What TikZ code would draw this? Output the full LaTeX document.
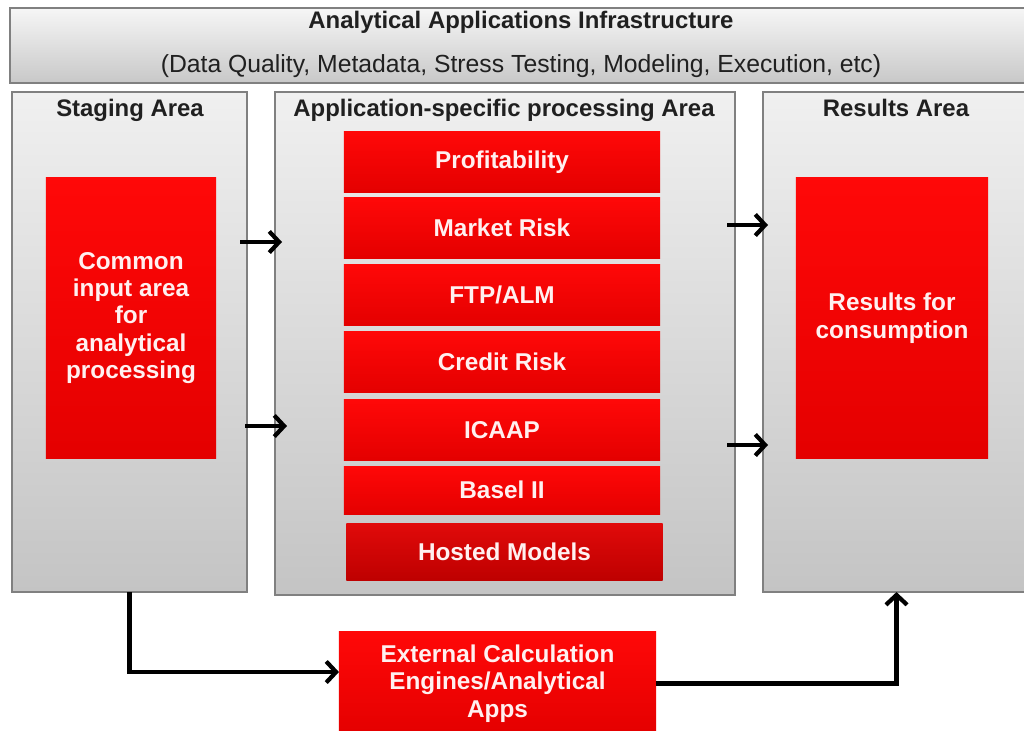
\documentclass[tikz,border=0pt]{standalone}
\usepackage{fontspec}
\setmainfont{Liberation Sans}
\usetikzlibrary{positioning,arrows.meta}
\definecolor{panelline}{RGB}{128,128,128}
\definecolor{panelhi}{RGB}{240,240,240}
\definecolor{panello}{RGB}{196,196,196}
\definecolor{barhi}{RGB}{246,246,246}
\definecolor{barlo}{RGB}{200,200,200}
\definecolor{redhi}{RGB}{255,8,8}
\definecolor{redlo}{RGB}{228,0,0}
\definecolor{darkhi}{RGB}{225,10,10}
\definecolor{darklo}{RGB}{190,0,0}
\definecolor{headtext}{RGB}{32,32,32}
\definecolor{celltext}{RGB}{255,240,240}
\newcommand{\areafont}{\bfseries\fontsize{17}{19}\selectfont}
\newcommand{\cellfont}{\bfseries\fontsize{17.3}{19.5}\selectfont}
\newcommand{\notefont}{\fontsize{17.6}{19}\selectfont}
\tikzstyle{panel} = [draw=panelline, line width=1pt, top color=panelhi, bottom color=panello, inner sep=0pt, outer sep=0pt]
\tikzstyle{redbox} = [top color=redhi, bottom color=redlo, text=celltext, font=\cellfont, align=center, inner sep=0pt, outer sep=0pt]
\tikzstyle{head} = [font=\areafont, text=headtext]
\tikzstyle{arr} = [-{Straight Barb[length=7pt,width=15pt]}, line width=3pt, black]

\begin{document}
\begin{tikzpicture}[x=0.025cm, y=-0.025cm]
\useasboundingbox (0,0) rectangle (1024,730);

\node[panel, top color=barhi, bottom color=barlo, minimum width=25.5cm, minimum height=1.875cm] (infra) at (520,45.5) {};
\node[head] (infra_t) at (521,22) {Analytical Applications Infrastructure};
\node[font=\notefont, text=headtext] (infra_s) at (521,66) {(Data Quality, Metadata, Stress Testing, Modeling, Execution, etc)};

\node[panel, minimum width=5.875cm, minimum height=12.5cm] (stage) at (129.5,342) {};
\node[panel, minimum width=11.5cm, minimum height=12.575cm] (app) at (505,343.5) {};
\node[panel, minimum width=6.675cm, minimum height=12.5cm] (res) at (896.5,342) {};

\node[head] (stage_t) at (130,110) {Staging Area};
\node[head] (app_t) at (504,110) {Application-specific processing Area};
\node[head] (res_t) at (896,108) {Results Area};

\node[redbox, minimum width=4.25cm, minimum height=7cm] (input) at (131,318) {Common\\input area\\for\\analytical\\processing};
\node[redbox, minimum width=4.8cm, minimum height=7cm] (output) at (892,318) {Results for\\consumption};

\node[redbox, minimum width=7.9cm, minimum height=1.5cm] (m_1) at (502,162) {Profitability};
\node[redbox, minimum width=7.9cm, minimum height=1.5cm] (m_2) at (502,228) {Market Risk};
\node[redbox, minimum width=7.9cm, minimum height=1.5cm] (m_3) at (502,295) {FTP/ALM};
\node[redbox, minimum width=7.9cm, minimum height=1.5cm] (m_4) at (502,362) {Credit Risk};
\node[redbox, minimum width=7.9cm, minimum height=1.5cm] (m_5) at (502,430) {ICAAP};
\node[redbox, minimum width=7.9cm, minimum height=1.2cm] (m_6) at (502,490) {Basel II};
\node[redbox, top color=darkhi, bottom color=darklo, minimum width=7.9cm, minimum height=1.425cm] (m_7) at (504.5,551.5) {Hosted Models};

\node[redbox, minimum width=7.925cm, minimum height=2.575cm] (ext) at (497.5,683.5) {External Calculation\\Engines/Analytical\\Apps};

\coordinate (s_1) at (240,242);
\coordinate (s_2) at (245,426);
\coordinate (t_1) at (282,242);
\coordinate (t_2) at (287,426);
\coordinate (u_1) at (727,225);
\coordinate (u_2) at (727,445);
\coordinate (v_1) at (768,225);
\coordinate (v_2) at (768,445);
\coordinate (turn) at (0,672);

\draw[arr] (s_1) -- (t_1);
\draw[arr] (s_2) -- (t_2);
\draw[arr] (u_1) -- (v_1);
\draw[arr] (u_2) -- (v_2);
\draw[arr] (stage.south) |- (ext.west |- turn);
\draw[arr] (ext.east) -| (res.south);

\end{tikzpicture}
\end{document}
